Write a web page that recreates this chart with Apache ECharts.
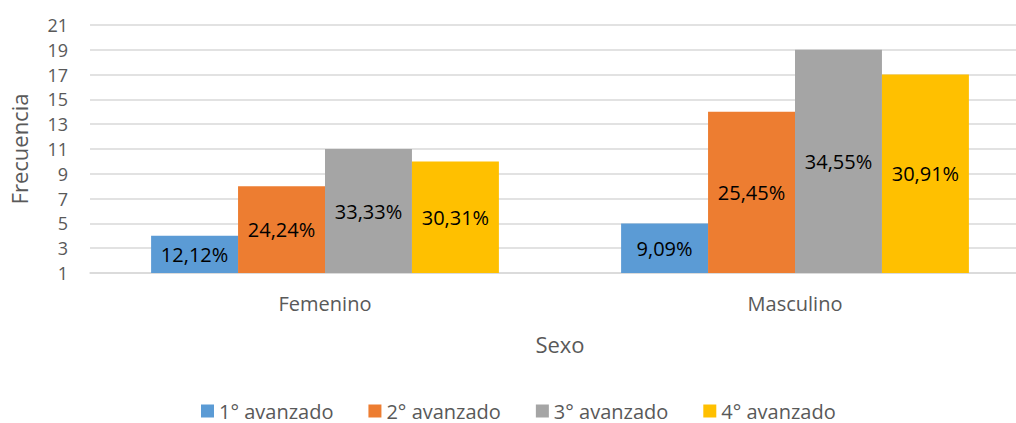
<!DOCTYPE html>
<html>
<head>
<meta charset="utf-8">
<style>
  html, body { margin: 0; padding: 0; background: #fff; }
  #chart { width: 1016px; height: 423px; }
</style>
<script src="https://cdn.jsdelivr.net/npm/echarts@6/dist/echarts.min.js"></script>
</head>
<body>
<div id="chart"></div>
<script>
var categories = ['Femenino', 'Masculino'];
var seriesNames = ['1° avanzado', '2° avanzado', '3° avanzado', '4° avanzado'];
var values = [
  [4, 5],
  [8, 14],
  [11, 19],
  [10, 17]
];
var percents = [
  ['12,12%', '9,09%'],
  ['24,24%', '25,45%'],
  ['33,33%', '34,55%'],
  ['30,31%', '30,91%']
];
var colors = ['#5b9bd5', '#ed7d31', '#a5a5a5', '#ffc000'];

(function() {
  var font = '"Open Sans", "Noto Sans", sans-serif';
  var muted = '#595959';
  var chart = echarts.init(document.getElementById('chart'), null, { renderer: 'svg' });

  var series = seriesNames.map(function(name, i) {
    return {
      name: name,
      type: 'bar',
      data: values[i],
      barGap: '0%',
      barCategoryGap: '26%',
      itemStyle: { color: colors[i] },
      label: {
        show: true,
        position: 'inside',
        color: '#000',
        fontSize: 20,
        fontFamily: font,
        formatter: function(p) { return percents[i][p.dataIndex]; }
      }
    };
  });

  chart.setOption({
    animation: false,
    color: colors,
    // plot area runs past the right edge, as in the cropped original
    grid: { left: 90, width: 940, top: 25, height: 248, outerBoundsMode: 'none', containLabel: false },
    xAxis: {
      type: 'category',
      data: categories,
      name: 'Sexo',
      nameLocation: 'middle',
      nameGap: 60,
      nameTextStyle: { color: muted, fontSize: 22, fontFamily: font },
      axisLabel: { color: muted, fontSize: 20, fontFamily: font, margin: 20 },
      axisLine: { lineStyle: { color: '#d9d9d9', width: 1.5 } },
      axisTick: { show: false }
    },
    yAxis: {
      type: 'value',
      min: 1,
      max: 21,
      interval: 2,
      name: 'Frecuencia',
      nameLocation: 'middle',
      nameGap: 60,
      nameTextStyle: { color: muted, fontSize: 22, fontFamily: font },
      axisLabel: { color: muted, fontSize: 18, fontFamily: font, margin: 22 },
      axisLine: { show: false },
      axisTick: { show: false },
      splitLine: { lineStyle: { color: '#d9d9d9', width: 1.5 } }
    },
    legend: {
      data: seriesNames,
      left: 196,
      top: 396,
      icon: 'rect',
      itemWidth: 13,
      itemHeight: 13,
      itemGap: 35,
      textStyle: { color: muted, fontSize: 20, fontFamily: font }
    },
    series: series
  });
  window.addEventListener('resize', function() { chart.resize(); });
})();
</script>
</body>
</html>
